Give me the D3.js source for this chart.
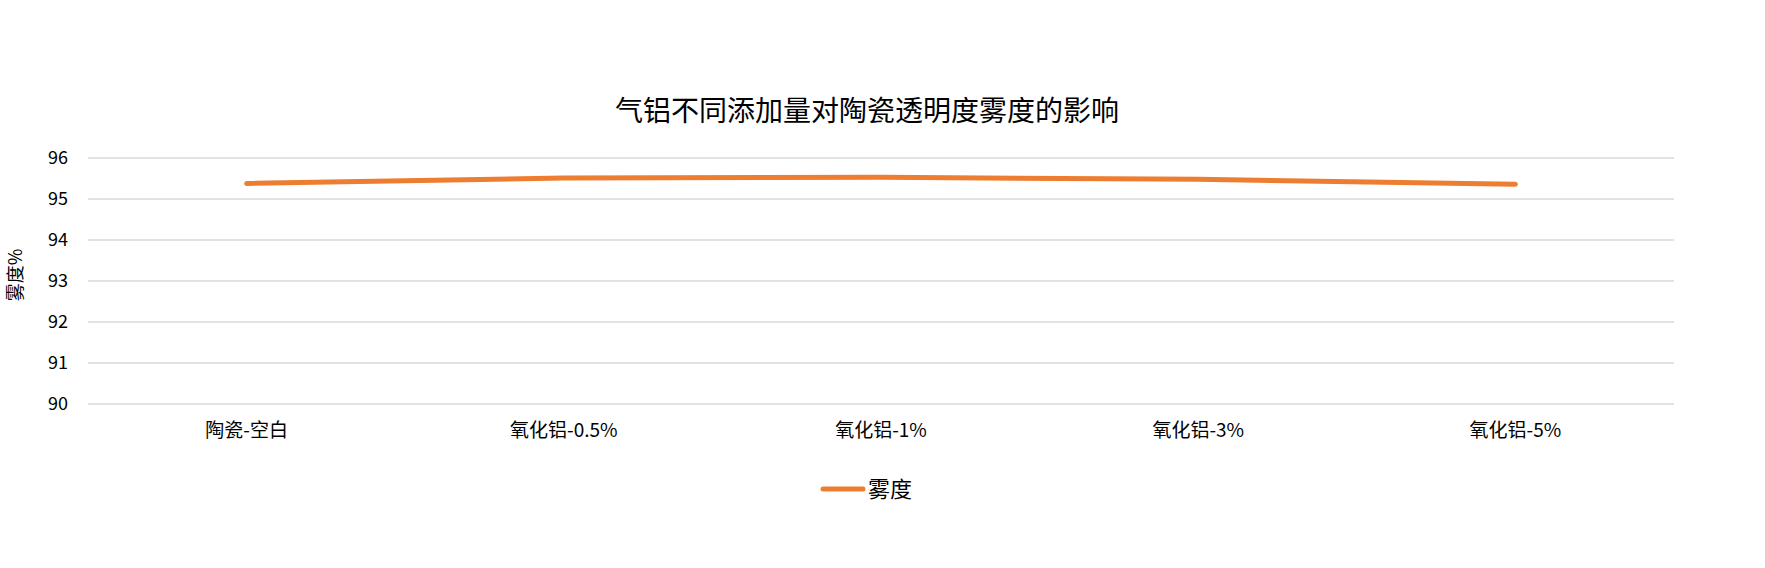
<!DOCTYPE html>
<html>
<head>
<meta charset="utf-8">
<script src="https://cdn.jsdelivr.net/npm/d3@7"></script>
<style>
  body { margin: 0; background: #fff; }
  text { font-family: "Noto Sans CJK SC", "Noto Sans", sans-serif; fill: #000; }
</style>
</head>
<body>
<div id="chart"></div>
<script>
var categories = ["陶瓷-空白", "氧化铝-0.5%", "氧化铝-1%", "氧化铝-3%", "氧化铝-5%"];
var haze = [95.38, 95.51, 95.53, 95.48, 95.36];
var yTicks = [90, 91, 92, 93, 94, 95, 96];
var seriesName = "雾度";
var chartTitle = "气铝不同添加量对陶瓷透明度雾度的影响";
var yTitle = "雾度%";

var svgWidth = 1765;
var svgHeight = 568;

var margin = { top: 158, right: 91, bottom: 164, left: 88 };
var width = svgWidth - margin.left - margin.right;
var height = svgHeight - margin.top - margin.bottom;

var svg = d3.select("#chart")
  .append("svg")
  .attr("width", svgWidth)
  .attr("height", svgHeight);

svg.append("rect")
  .attr("width", "100%")
  .attr("height", "100%")
  .attr("fill", "#fff");

var chartGroup = svg.append("g")
  .attr("transform", `translate(${margin.left}, ${margin.top})`);

var xScale = d3.scaleBand()
  .domain(categories)
  .range([0, width]);

var yScale = d3.scaleLinear()
  .domain([90, 96])
  .range([height, 0]);

// grid lines
chartGroup.append("g")
  .selectAll("line")
  .data(yTicks)
  .enter()
  .append("line")
  .attr("x1", 0)
  .attr("x2", width)
  .attr("y1", d => yScale(d))
  .attr("y2", d => yScale(d))
  .attr("stroke", "#d9d9d9")
  .attr("stroke-width", 1.3);

// y axis labels
var yAxis = d3.axisLeft(yScale)
  .tickValues(yTicks)
  .tickFormat(d3.format("d"))
  .tickSize(0)
  .tickPadding(20);
chartGroup.append("g")
  .call(yAxis)
  .call(g => g.select(".domain").remove())
  .selectAll("text")
  .style("font-size", "18px")
  .style("font-family", "'Noto Sans CJK SC', sans-serif")
  .attr("fill", "#404040");

// x axis labels
var xAxis = d3.axisBottom(xScale).tickSize(0).tickPadding(20);
chartGroup.append("g")
  .attr("transform", `translate(0, ${height})`)
  .call(xAxis)
  .call(g => g.select(".domain").remove())
  .selectAll("text")
  .style("font-size", "19px")
  .style("font-family", "'Noto Sans CJK SC', sans-serif")
  .attr("fill", "#404040");

// line
var line = d3.line()
  .x((d, i) => xScale(categories[i]) + xScale.bandwidth() / 2)
  .y(d => yScale(d));

chartGroup.append("path")
  .datum(haze)
  .attr("d", line)
  .attr("fill", "none")
  .attr("stroke", "#ed7d31")
  .attr("stroke-width", 5)
  .attr("stroke-linecap", "round")
  .attr("stroke-linejoin", "round");

// title
svg.append("text")
  .attr("x", 867)
  .attr("y", 111)
  .attr("dy", "0.35em")
  .style("text-anchor", "middle")
  .style("font-size", "28px")
  .attr("fill", "#262626")
  .text(chartTitle);

// y title
svg.append("text")
  .attr("transform", "translate(16, 275) rotate(-90)")
  .attr("dy", "0.35em")
  .style("text-anchor", "middle")
  .style("font-size", "18px")
  .attr("fill", "#404040")
  .text(yTitle);

// legend
var legend = svg.append("g")
  .attr("transform", "translate(823, 489)");

legend.append("line")
  .attr("x1", 0)
  .attr("x2", 40)
  .attr("y1", 0)
  .attr("y2", 0)
  .attr("stroke", "#ed7d31")
  .attr("stroke-width", 5)
  .attr("stroke-linecap", "round");

legend.append("text")
  .attr("x", 45)
  .attr("y", 0)
  .attr("dy", "0.35em")
  .style("font-size", "22px")
  .attr("fill", "#262626")
  .text(seriesName);
</script>
</body>
</html>
